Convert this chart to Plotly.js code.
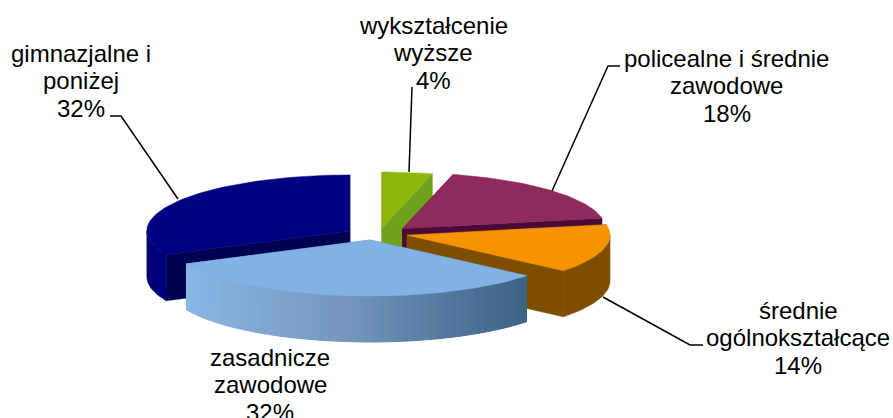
<!DOCTYPE html>
<html><head><meta charset="utf-8">
<script src="https://cdn.plot.ly/plotly-3.0.1.min.js"></script>
<style>html,body{margin:0;padding:0;background:#fff}#c{width:893px;height:418px}</style></head>
<body><div id="c"></div>
<script>
const categories = ["wykształcenie wyższe","policealne i średnie zawodowe","średnie ogólnokształcące","zasadnicze zawodowe","gimnazjalne i poniżej"];
const values = [4,18,14,32,32];
const labelLines = [["wykształcenie","wyższe","4%"],["policealne i średnie","zawodowe","18%"],["średnie","ogólnokształcące","14%"],["zasadnicze","zawodowe","32%"],["gimnazjalne i","poniżej","32%"]];

// pie projection (axis units are the 893x418 frame)
const C={x:377,y:234}, A=203, B=56, DEPTH=46, EXPLODE=31;
const nudge=[[1,2.5],[3,0.5],[0,-1],[-3,-2.5],[-1,1.5]];
const topCols=["#8cb80e","#8e2a5e","#f59300","#80b2e6","#000083"];
const faceCols=["#6ea21c","#4c0a38","#7d4e00","#5f86ad","#000052"];
const wallCols=["#6ea21c","#4c0a38","#7d4e00",null,"#00007a"];
const drawOrder=[0,4,1,2,3];
const blueStops=[[0,[138,182,228]],[0.45,[118,152,190]],[0.8,[80,116,154]],[1,[62,98,134]]];

const rad=d=>d*Math.PI/180;
const total=values.reduce((a,b)=>a+b,0);
let acc=0;
const slices=values.map((v,i)=>{const s=acc/total*360;acc+=v;const e=acc/total*360;const m=rad((s+e)/2);
  return {i,s,e,cx:C.x+EXPLODE*Math.sin(m)+nudge[i][0],cy:C.y-EXPLODE*Math.cos(m)*B/A+nudge[i][1]};});
const pt=(sl,d,dz=0)=>[sl.cx+A*Math.sin(rad(d)),sl.cy-B*Math.cos(rad(d))+dz];
const arc=(sl,a,b,dz=0)=>{const n=Math.max(2,Math.ceil(Math.abs(b-a)/1.5));const o=[];for(let k=0;k<=n;k++)o.push(pt(sl,a+(b-a)*k/n,dz));return o;};
const poly=(pts,col,lw)=>({type:"scatter",mode:"lines",x:pts.map(p=>p[0]).concat(pts[0][0]),y:pts.map(p=>p[1]).concat(pts[0][1]),
  fill:"toself",fillcolor:col,line:{color:col,width:lw===undefined?0.5:lw},hoverinfo:"skip",showlegend:false});
const mix=t=>{for(let k=1;k<blueStops.length;k++){if(t<=blueStops[k][0]){const[a,ca]=blueStops[k-1],[b,cb]=blueStops[k];const u=(t-a)/(b-a);
  return "rgb("+ca.map((c,j)=>Math.round(c+(cb[j]-c)*u)).join(",")+")";}}return "rgb(62,98,134)";};

const traces=[];
drawOrder.forEach(idx=>{
  const sl=slices[idx];
  const apex=[sl.cx,sl.cy], apexD=[sl.cx,sl.cy+DEPTH];
  [sl.s,sl.e].forEach(d=>traces.push(poly([apex,pt(sl,d),pt(sl,d,DEPTH),apexD],faceCols[idx])));
  const a=Math.max(sl.s,90), b=Math.min(sl.e,270);
  if(b>a){
    if(wallCols[idx]){
      traces.push(poly(arc(sl,a,b).concat(arc(sl,b,a,DEPTH)),wallCols[idx]));
    } else {
      const N=48, xl=pt(sl,b)[0], xr=pt(sl,a)[0];
      for(let k=0;k<N;k++){
        const d0=a+(b-a)*k/N,d1=a+(b-a)*(k+1)/N;
        const xm=(pt(sl,d0)[0]+pt(sl,d1)[0])/2;
        traces.push(poly(arc(sl,d0,d1).concat(arc(sl,d1,d0,DEPTH)),mix((xm-xl)/(xr-xl)),1));
      }
    }
  }
  traces.push(poly([apex].concat(arc(sl,sl.s,sl.e)),topCols[idx]));
});

// leader lines
const leaders=[
 [[412,87],[409,172]],
 [[620,66],[608,66],[552,191]],
 [[603,297],[690,345],[703,345]],
 [[110,116],[121,116],[178,199]]
];
leaders.forEach(l=>traces.push({type:"scatter",mode:"lines",x:l.map(p=>p[0]),y:l.map(p=>p[1]),
  line:{color:"#000",width:1.5},hoverinfo:"skip",showlegend:false}));

const labelX=[433,726.5,798,270,81];
const labelFirstY=[25,58,310,357,53];
const LINE=27.7;
const annotations=[];
labelLines.forEach((lines,i)=>lines.forEach((t,k)=>annotations.push({x:labelX[i],y:labelFirstY[i]+k*LINE,xref:"x",yref:"y",text:t,showarrow:false,
  xanchor:"center",yanchor:"middle",align:"center",font:{family:"Liberation Sans, Arial, sans-serif",size:24,color:"#000"}})));

Plotly.newPlot("c",traces,{width:893,height:418,margin:{l:0,r:0,t:0,b:0},paper_bgcolor:"#fff",plot_bgcolor:"#fff",
  xaxis:{range:[0,893],visible:false,fixedrange:true},yaxis:{range:[418,0],visible:false,fixedrange:true},
  annotations,showlegend:false},{displayModeBar:false,staticPlot:true});
</script></body></html>
